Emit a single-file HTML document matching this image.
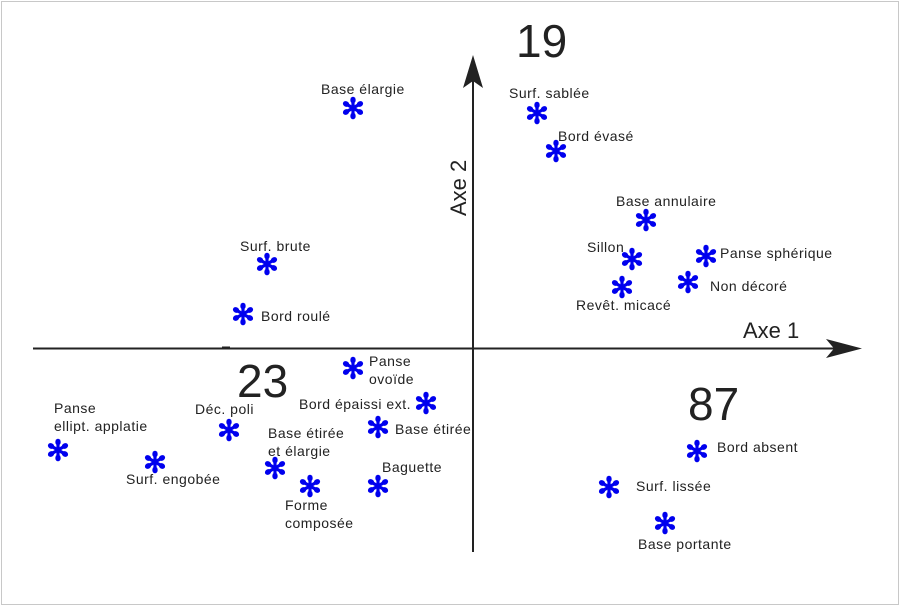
<!DOCTYPE html>
<html><head><meta charset="utf-8"><style>
html,body{margin:0;padding:0;background:#fff;}
svg{display:block;}
text{font-family:"Liberation Sans",sans-serif;fill:#222;}
.l{font-size:14px;letter-spacing:0.5px;}
.b{font-size:46px;}
</style></head><body>
<svg width="900" height="607" viewBox="0 0 900 607" xmlns="http://www.w3.org/2000/svg">
<defs>
<g id="p"><line x1="0" y1="0" x2="0" y2="-8" stroke="#0000ee" stroke-width="3.2"/><ellipse cx="0" cy="-8" rx="2.7" ry="3.3" fill="#0000ee"/></g>
<g id="s">
<use href="#p"/>
<use href="#p" transform="rotate(60)"/>
<use href="#p" transform="rotate(120)"/>
<use href="#p" transform="rotate(180)"/>
<use href="#p" transform="rotate(240)"/>
<use href="#p" transform="rotate(300)"/>
<circle r="2.2" fill="#0000ee"/>
</g>
</defs>
<rect x="1.5" y="1.5" width="897" height="603" fill="none" stroke="#c8c8c8" stroke-width="1"/>
<line x1="33" y1="348.5" x2="840" y2="348.5" stroke="#222" stroke-width="2"/>
<polygon points="862,348.5 826,339 834,348.5 826,358" fill="#222"/>
<line x1="473" y1="552" x2="473" y2="80" stroke="#222" stroke-width="2"/>
<polygon points="473,55 463,88 473,81 483,88" fill="#222"/>
<line x1="222" y1="347" x2="230" y2="347" stroke="#222" stroke-width="1"/>
<text x="743" y="338" style="font-size:22px">Axe 1</text>
<text transform="translate(466,216) rotate(-90)" style="font-size:22px">Axe 2</text>
<text class="b" x="516" y="57">19</text>
<text class="b" x="237" y="397">23</text>
<text class="b" x="688" y="420">87</text>

<use href="#s" x="353" y="108"/><text class="l" x="321" y="94">Base élargie</text>
<use href="#s" x="537" y="113"/><text class="l" x="509" y="98">Surf. sablée</text>
<use href="#s" x="556" y="151"/><text class="l" x="558" y="141">Bord évasé</text>
<use href="#s" x="646" y="220"/><text class="l" x="616" y="206">Base annulaire</text>
<use href="#s" x="632" y="259"/><text class="l" x="587" y="252">Sillon</text>
<use href="#s" x="706" y="256"/><text class="l" x="720" y="258">Panse sphérique</text>
<use href="#s" x="688" y="282"/><text class="l" x="710" y="291">Non décoré</text>
<use href="#s" x="622" y="287"/><text class="l" x="576" y="310">Revêt. micacé</text>
<use href="#s" x="267" y="264"/><text class="l" x="240" y="251">Surf. brute</text>
<use href="#s" x="243" y="314"/><text class="l" x="261" y="321">Bord roulé</text>
<use href="#s" x="353" y="368"/><text class="l" x="369" y="366">Panse</text><text class="l" x="369" y="384">ovoïde</text>
<use href="#s" x="426" y="403"/><text class="l" x="299" y="409">Bord épaissi ext.</text>
<use href="#s" x="378" y="427"/><text class="l" x="395" y="434">Base étirée</text>
<use href="#s" x="229" y="430"/><text class="l" x="195" y="414">Déc. poli</text>
<use href="#s" x="58" y="450"/><text class="l" x="54" y="413">Panse</text><text class="l" x="54" y="431">ellipt. applatie</text>
<use href="#s" x="155" y="462"/><text class="l" x="126" y="484">Surf. engobée</text>
<use href="#s" x="275" y="468"/><text class="l" x="268" y="438">Base étirée</text><text class="l" x="268" y="456">et élargie</text>
<use href="#s" x="310" y="486"/><text class="l" x="285" y="510">Forme</text><text class="l" x="285" y="528">composée</text>
<use href="#s" x="378" y="486"/><text class="l" x="382" y="472">Baguette</text>
<use href="#s" x="697" y="451"/><text class="l" x="717" y="452">Bord absent</text>
<use href="#s" x="609" y="487"/><text class="l" x="636" y="491">Surf. lissée</text>
<use href="#s" x="665" y="523"/><text class="l" x="638" y="549">Base portante</text>
</svg>
</body></html>
